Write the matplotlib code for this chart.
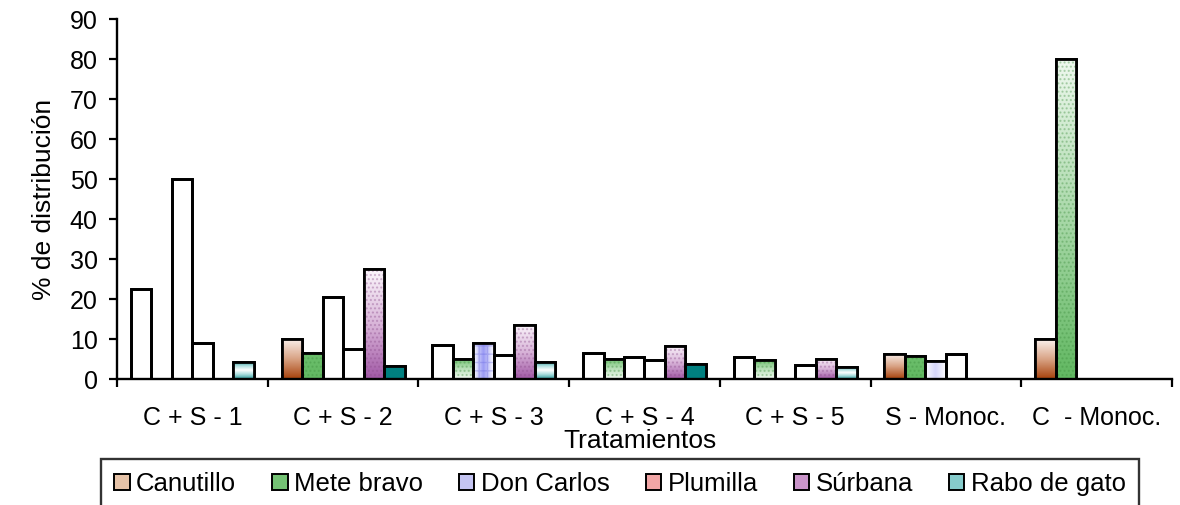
import numpy as np
import matplotlib
matplotlib.use("Agg")
import matplotlib.pyplot as plt
from matplotlib.patches import Patch, Rectangle
from matplotlib.colors import to_rgb

plt.rcParams['font.family'] = ['Liberation Sans', 'DejaVu Sans']

# data
groups = ['C + S - 1', 'C + S - 2', 'C + S - 3', 'C + S - 4', 'C + S - 5', 'S - Monoc.', 'C  - Monoc.']
series = ['Canutillo', 'Mete bravo', 'Don Carlos', 'Plumilla', 'Súrbana', 'Rabo de gato']
canutillo = [22.7, 10.2, 8.7, 6.7, 5.5, 6.3, 10.0]
mete_bravo = [0, 6.7, 5.1, 5.1, 4.8, 5.8, 80.0]
don_carlos = [50.0, 20.6, 9.1, 5.5, 0, 4.6, 0]
plumilla = [9.1, 7.7, 6.1, 4.8, 3.6, 6.3, 0]
surbana = [0, 27.5, 13.6, 8.3, 5.1, 0, 0]
rabo_de_gato = [4.4, 3.3, 4.4, 3.9, 3.2, 0, 0]
values = [canutillo, mete_bravo, don_carlos, plumilla, surbana, rabo_de_gato]

# how each bar looks in the original (fills rendered unevenly)
fills = [
    ['w', 'brown', 'w', 'w', 'w', 'brown', 'brown'],
    ['w', 'green', 'green_g', 'green_g', 'green_g', 'green', 'green_up'],
    ['w', 'w', 'blue', 'w', 'w', 'blue2', 'w'],
    ['w', 'w', 'w', 'w', 'w', 'w', 'w'],
    ['w', 'purple', 'purple', 'purple', 'purple', 'w', 'w'],
    ['teal_g', 'teal', 'teal_g', 'teal', 'teal_g', 'w', 'w'],
]
legend_colors = ['#e6c3a8', '#74c274', '#c4c4f2', '#f2a6a6', '#c994c9', '#86cccc']


def ramp(stops, n=64):
    # stops: list of colours from top to bottom
    cols = np.array([to_rgb(c) for c in stops])
    t = np.linspace(0, 1, n)
    pos = np.linspace(0, 1, len(cols))
    return np.stack([np.interp(t, pos, cols[:, k]) for k in range(3)], axis=-1)


def fill_image(kind):
    if kind == 'brown':
        return ramp(['#fbf2ee', '#d9a486', '#a8420c'])[:, None, :]
    if kind == 'green':
        return ramp(['#6cbf6c', '#62b862'])[:, None, :]
    if kind == 'green_g':
        return ramp(['#6cbf6c', '#b8e0b8', '#f4fbf4'])[:, None, :]
    if kind == 'green_up':
        return ramp(['#eef8ee', '#a8d8a8', '#62b862'])[:, None, :]
    if kind == 'blue':
        return ramp(['#ffffff', '#9a9af5', '#ffffff'])[None, :, :]
    if kind == 'blue2':
        return ramp(['#ffffff', '#d6d6fb', '#ffffff'])[None, :, :]
    if kind == 'purple':
        return ramp(['#fbf6fb', '#d9b5d9', '#a259a6'])[:, None, :]
    if kind == 'teal_g':
        return ramp(['#1f8f8f', '#a8dcdc', '#ffffff', '#a8dcdc', '#2f9a9a'])[:, None, :]
    if kind == 'teal':
        return ramp(['#008080', '#008080'])[:, None, :]
    return None


fig = plt.figure(figsize=(11.8, 5.05), dpi=100)
ax = fig.add_axes([117 / 1180, 1 - 379.3 / 505, (1172 - 117) / 1180, (379.3 - 19.3) / 505])

n = len(series)
w = 0.136
start = (1 - n * w) / 2
x = np.arange(len(groups))

for s in range(n):
    xs = x + start + w * (s + 0.5)
    for g in range(len(groups)):
        h = values[s][g]
        if h <= 0:
            continue
        bar = ax.bar(xs[g], h, width=w, facecolor='white', edgecolor='black',
                     linewidth=2.0, zorder=2)[0]
        img = fill_image(fills[s][g])
        if img is not None:
            x0 = xs[g] - w / 2
            im = ax.imshow(img, extent=(x0, x0 + w, 0, h), aspect='auto',
                           origin='upper', zorder=2.5, interpolation='bilinear')
            im.set_clip_path(bar)
        if fills[s][g] in ('green', 'green_g', 'green_up', 'purple', 'blue'):
            hc = {'purple': '#8a4a8a', 'blue': '#6a6ae0'}.get(fills[s][g], '#3f8f3f')
            ax.add_patch(Rectangle((xs[g] - w / 2, 0), w, h, fill=False, edgecolor=hc,
                                   linewidth=0, hatch='....' if fills[s][g] != 'blue' else '++',
                                   alpha=0.35, zorder=2.7))
        ax.bar(xs[g], h, width=w, facecolor='none', edgecolor='black',
               linewidth=2.0, zorder=3)

ax.set_xlim(0, len(groups))
ax.set_ylim(0, 90)
ax.set_yticks(np.arange(0, 91, 10))
ax.set_xticks(np.arange(len(groups) + 1))
ax.set_xticklabels([])
ax.set_xticks(x + 0.5, minor=True)
ax.set_xticklabels(groups, minor=True)
ax.tick_params(axis='x', which='major', direction='out', length=6, width=1.6)
ax.tick_params(axis='x', which='minor', length=0, pad=19, labelsize=18)
ax.tick_params(axis='y', direction='out', length=6, width=1.6, labelsize=18, pad=8)

for side in ('top', 'right'):
    ax.spines[side].set_visible(False)
for side in ('left', 'bottom'):
    ax.spines[side].set_linewidth(1.7)

ax.set_ylabel('% de distribución', fontsize=19, labelpad=10)
fig.text(640 / 1180, 1 - 441 / 505, 'Tratamientos', fontsize=19, ha='center', va='center')

handles = [Patch(facecolor=c, edgecolor='black', linewidth=1.4) for c in legend_colors]
leg = fig.legend(handles, series, loc='upper center', bbox_to_anchor=(620 / 1180, 1 - 459 / 505),
                 ncol=6, fontsize=18.5, frameon=True, fancybox=False, handlelength=0.6,
                 handleheight=0.6, handletextpad=0.25, columnspacing=1.4, borderpad=0.5,
                 borderaxespad=0)
leg.get_frame().set_edgecolor('black')
leg.get_frame().set_linewidth(1.7)

fig.savefig('out.png', dpi=100)
